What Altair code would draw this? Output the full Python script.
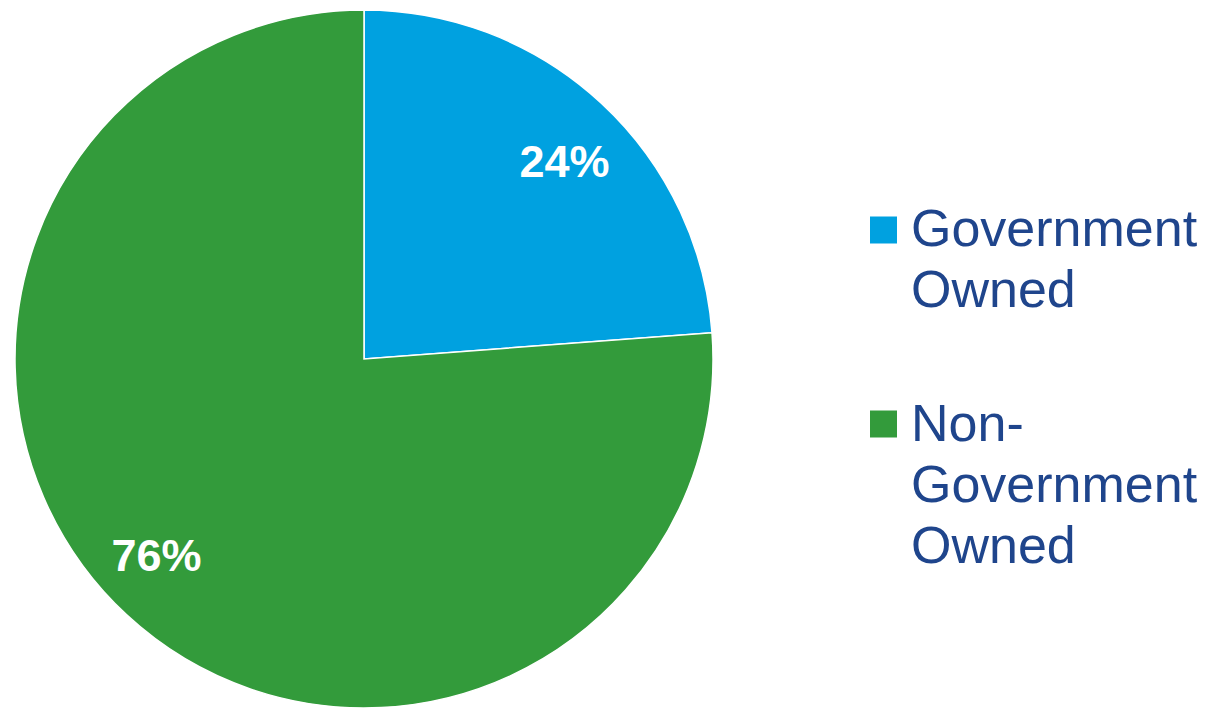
import altair as alt
import pandas as pd

categories = ["Government Owned", "Non-Government Owned"]
shares = [23.8, 76.2]
pct_labels = ["24%", "76%"]
legend_lines = [["Government", "Owned"], ["Non-", "Government", "Owned"]]
colors = ["#00A1E0", "#339B3B"]
text_color = "#1F458C"
# small label nudges (pixels) to mimic the original label placement
label_nudges = [(8, 12), (-15, -10)]

df = pd.DataFrame({"category": categories, "share": shares,
                   "label": pct_labels, "order": list(range(len(categories)))})

base = alt.Chart(df).encode(
    theta=alt.Theta("share:Q", stack=True),
    order=alt.Order("order:Q"),
    x=alt.value(364),
    y=alt.value(359),
)

pie = base.mark_arc(outerRadius=349, stroke="white", strokeWidth=1.5).encode(
    color=alt.Color("category:N", scale=alt.Scale(domain=categories, range=colors), legend=None)
)

layers = [pie]
for cat, (ndx, ndy) in zip(categories, label_nudges):
    pct = base.mark_text(radius=283, font="Liberation Sans", fontSize=45,
                         fontWeight="bold", align="center", baseline="middle",
                         dx=ndx, dy=ndy).encode(
        text="label:N",
        color=alt.value("white"),
        opacity=alt.condition(alt.datum.category == cat, alt.value(1), alt.value(0)),
    )
    layers.append(pct)

for i, (cat, lines, col) in enumerate(zip(categories, legend_lines, colors)):
    ldf = pd.DataFrame({"category": [cat], "txt": ["\n".join(lines)]})
    sq = alt.Chart(ldf).mark_square(size=27 * 27, opacity=1, filled=True).encode(
        x=alt.value(883.5), y=alt.value(230 + i * 194), color=alt.value(col)
    )
    tx = alt.Chart(ldf).mark_text(font="Liberation Sans", fontSize=52, align="left",
                                  baseline="alphabetic", lineBreak="\n", lineHeight=61).encode(
        x=alt.value(911), y=alt.value(246 + i * 195), text="txt:N", color=alt.value(text_color)
    )
    layers += [sq, tx]

chart = alt.layer(*layers).properties(
    width=1210, height=708, autosize=alt.AutoSizeParams(type="none"), padding=0
).configure_view(stroke=None)

chart.save("out.html", embed_options={"renderer": "svg", "actions": False})
